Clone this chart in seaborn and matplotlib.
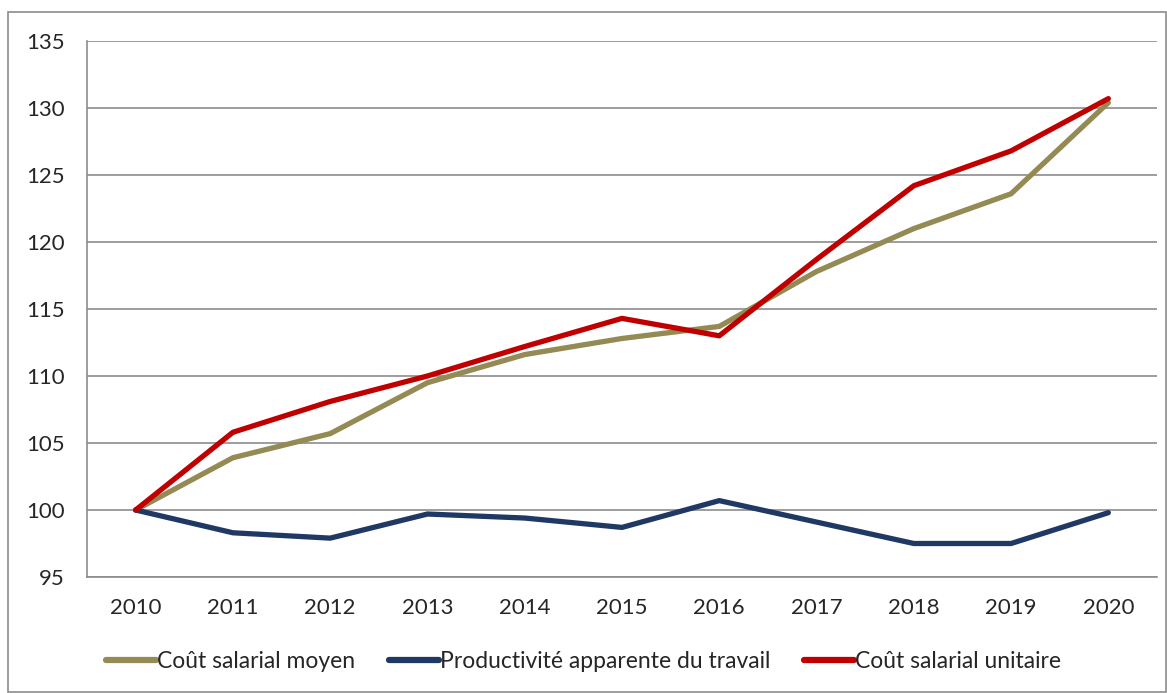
import pandas as pd
import seaborn as sns
import matplotlib.pyplot as plt
from matplotlib.patches import Rectangle

# Data (index, base 100 in 2010)
years = ['2010', '2011', '2012', '2013', '2014', '2015', '2016', '2017', '2018', '2019', '2020']
cout_moyen = [100, 103.9, 105.7, 109.5, 111.6, 112.8, 113.7, 117.8, 121.0, 123.6, 130.4]
productivite = [100, 98.3, 97.9, 99.7, 99.4, 98.7, 100.7, 99.1, 97.5, 97.5, 99.8]
cout_unitaire = [100, 105.8, 108.1, 110.0, 112.2, 114.3, 113.0, 118.7, 124.2, 126.8, 130.7]

series_names = ['Coût salarial moyen', 'Productivité apparente du travail', 'Coût salarial unitaire']
colors = ['#948A54', '#1F3864', '#C00000']

df = pd.DataFrame({'pos': list(range(len(years))) * 3,
                   'valeur': cout_moyen + productivite + cout_unitaire,
                   'serie': [s for s in series_names for _ in years]})

sns.set_style('white')
plt.rcParams['font.family'] = ['Lato', 'DejaVu Sans']

fig = plt.figure(figsize=(11.67, 6.93), dpi=100)
ax = fig.add_axes([87 / 1167, 1 - 577 / 693, 1070 / 1167, 536 / 693])

sns.lineplot(data=df, x='pos', y='valeur', hue='serie', palette=colors,
             hue_order=series_names, linewidth=3.8, ax=ax, legend=False)

ax.set_xlim(-0.5, len(years) - 0.5)
ax.set_ylim(95, 135)
ax.set_yticks(range(95, 136, 5))
ax.yaxis.grid(True, color='#8c8c8c', linewidth=1.2)
ax.set_axisbelow(True)

# Excel style: ticks between categories, labels centered on categories
ax.set_xticks([i - 0.5 for i in range(len(years) + 1)])
ax.set_xticklabels([])
ax.set_xticks(range(len(years)), minor=True)
ax.set_xticklabels(years, minor=True)
ax.tick_params(axis='x', which='major', length=7, width=1.2, color='#8c8c8c', direction='out')
ax.tick_params(axis='x', which='minor', length=0, pad=15, labelsize=16)
ax.tick_params(axis='y', length=7, width=1.2, color='#8c8c8c', direction='out', labelsize=16, pad=9)

for s in ['top', 'right']:
    ax.spines[s].set_visible(False)
for s in ['left', 'bottom']:
    ax.spines[s].set_color('#8c8c8c')
    ax.spines[s].set_linewidth(1.2)
ax.set_xlabel('')
ax.set_ylabel('')

handles = [plt.Line2D([], [], color=c, linewidth=4.5) for c in colors]
fig.legend(handles, series_names, loc='center', bbox_to_anchor=(0.5, 1 - 662 / 693),
           ncol=3, frameon=False, fontsize=16.5, handlelength=2.2, handletextpad=0.05,
           columnspacing=1.45)

fig.patches.append(Rectangle((8 / 1167, 1 / 693), 1158 / 1167, 680 / 693,
                             transform=fig.transFigure, fill=False,
                             edgecolor='#8c8c8c', linewidth=1.2))

fig.savefig('out.png', dpi=100)
